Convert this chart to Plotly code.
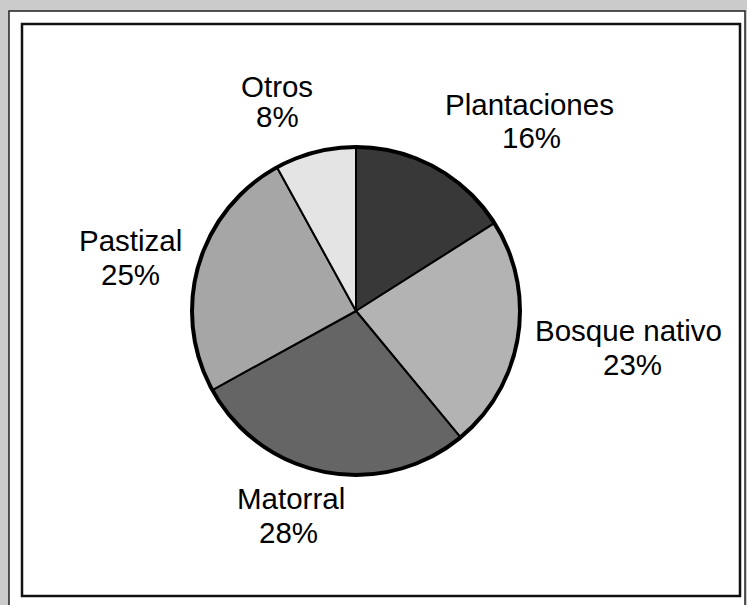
import plotly.graph_objects as go

labels = ["Plantaciones", "Bosque nativo", "Matorral", "Pastizal", "Otros"]
values = [16, 23, 28, 25, 8]
colors = ["#383838", "#b3b3b3", "#656565", "#a6a6a6", "#e4e4e4"]

W, H = 747, 605
CX, CY, R = 356, 311, 164

# label line centres in pixels: (x_name, y_name, x_pct, y_pct)
label_pos = [
    (529, 105, 531, 137),
    (628, 330, 632, 364),
    (291, 498, 288, 532),
    (130, 241, 130, 274),
    (277, 86, 277, 117),
]


def px(x):
    return x / W


def py(y):
    return 1 - y / H


fig = go.Figure(
    go.Pie(
        labels=labels,
        values=values,
        sort=False,
        direction="clockwise",
        rotation=0,
        marker=dict(colors=colors, line=dict(color="black", width=2)),
        textinfo="none",
        hoverinfo="label+percent",
        showlegend=False,
        domain=dict(x=[px(CX - R), px(CX + R)], y=[py(CY + R), py(CY - R)]),
    )
)

font = dict(family="Liberation Sans, Arial, sans-serif", size=29.5, color="black")
ann = []
for lab, val, (x1, y1, x2, y2) in zip(labels, values, label_pos):
    ann.append(dict(x=px(x1), y=py(y1), xref="paper", yref="paper", text=lab,
                    showarrow=False, font=font, xanchor="center", yanchor="middle"))
    ann.append(dict(x=px(x2), y=py(y2), xref="paper", yref="paper", text=f"{val}%",
                    showarrow=False, font=font, xanchor="center", yanchor="middle"))

shapes = [
    dict(type="rect", xref="paper", yref="paper", x0=px(9), x1=px(745), y0=py(615), y1=py(11),
         fillcolor="white", line=dict(color="#222222", width=1.5), layer="below"),
    dict(type="rect", xref="paper", yref="paper", x0=px(22), x1=px(740), y0=py(596), y1=py(24),
         fillcolor="white", line=dict(color="#111111", width=2.5), layer="below"),
    dict(type="circle", xref="paper", yref="paper", x0=px(CX - R), x1=px(CX + R),
         y0=py(CY + R), y1=py(CY - R), line=dict(color="black", width=4), layer="above"),
]

fig.update_layout(
    width=W,
    height=H,
    margin=dict(l=0, r=0, t=0, b=0),
    paper_bgcolor="#cbcbcb",
    plot_bgcolor="white",
    annotations=ann,
    shapes=shapes,
)

fig.write_html(
    "out.html",
    config={"displayModeBar": False},
    post_script="document.body.style.margin='0';document.body.style.overflow='hidden';",
)
